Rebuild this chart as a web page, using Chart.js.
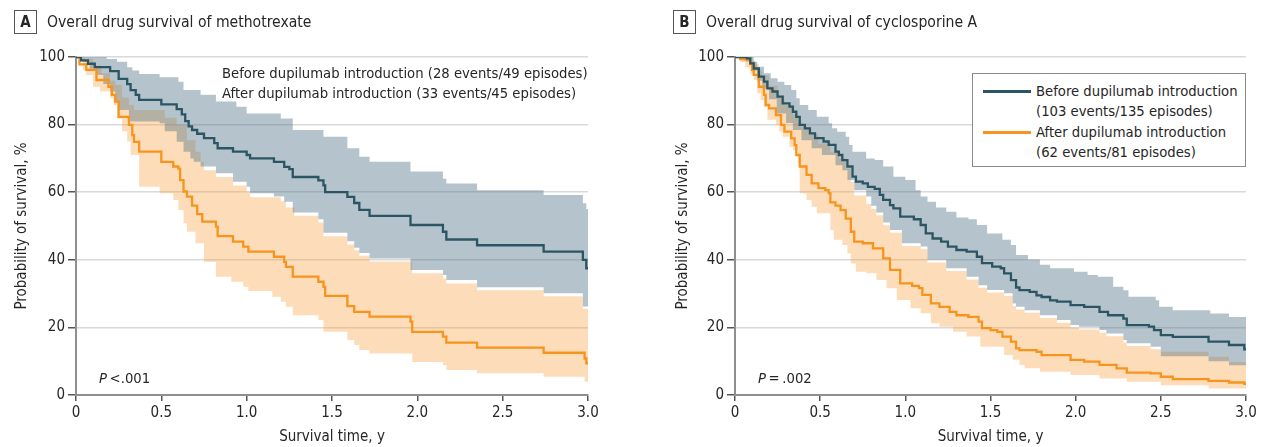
<!DOCTYPE html>
<html>
<head>
<meta charset="utf-8">
<script src="https://cdn.jsdelivr.net/npm/chart.js@4.4.1/dist/chart.umd.min.js"></script>
<style>
  body { margin: 0; background: #fff; }
  #page { position: relative; width: 1267px; height: 447px; overflow: hidden;
          font-family: "Liberation Sans Narrow", "DejaVu Sans Condensed", Roboto, sans-serif; color: #262626; }
  canvas { position: absolute; top: 0; }
  #chartA { left: 0; }
  #chartB { left: 640px; }
  .title { position: absolute; top: 10px; font-size: 15.6px; line-height: 24px; white-space: nowrap; }
  .title b { display: inline-block; box-sizing: border-box; width: 23px; height: 24px; border: 1px solid #555;
             text-align: center; line-height: 22px; font-size: 15px; margin-right: 10px; vertical-align: top; }
  .note { position: absolute; font-size: 14.7px; line-height: 20px; white-space: nowrap; }
  #legendB { position: absolute; left: 972px; top: 73px; width: 274px; height: 94px;
             box-sizing: border-box; border: 1px solid #8a8a8a; background: #fff; }
  .swatch { position: absolute; left: 10px; width: 48px; height: 3px; }
</style>
</head>
<body>
<div id="page">
  <canvas id="chartA" width="630" height="447"></canvas>
  <canvas id="chartB" width="627" height="447"></canvas>

  <div class="title" style="left:14px"><b>A</b>Overall drug survival of methotrexate</div>
  <div class="title" style="left:673px"><b>B</b>Overall drug survival of cyclosporine A</div>

  <div class="note" style="left:222px; top:63px">Before dupilumab introduction (28 events/49 episodes)</div>
  <div class="note" style="left:222px; top:83px">After dupilumab introduction (33 events/45 episodes)</div>

  <div id="legendB">
    <div class="swatch" style="top:16px; background:#2b5563"></div>
    <div class="swatch" style="top:57px; background:#f7941e"></div>
    <div class="note" style="left:63px; top:7px">Before dupilumab introduction</div>
    <div class="note" style="left:63px; top:27px">(103 events/135 episodes)</div>
    <div class="note" style="left:63px; top:48px">After dupilumab introduction</div>
    <div class="note" style="left:63px; top:68px">(62 events/81 episodes)</div>
  </div>

  <div class="note" style="left:99px; top:368px"><i>P</i>&thinsp;&lt;.001</div>
  <div class="note" style="left:758px; top:368px"><i>P</i>&thinsp;=&thinsp;.002</div>
</div>

<script>
/* ------------------------------------------------------------------ */
/*  Data: [time (y), survival (%)]                  */
/* ------------------------------------------------------------------ */

var xTicks = [0, 0.5, 1.0, 1.5, 2.0, 2.5, 3.0];
var xTickLabels = ["0", "0.5", "1.0", "1.5", "2.0", "2.5", "3.0"];
var yTicks = [0, 20, 40, 60, 80, 100];

// A: methotrexate
var mtxBefore = [[0,100],[0.03,99],[0.07,98],[0.11,97],[0.2,95.8],[0.25,93.5],[0.3,92],[0.32,90.2],[0.35,88.8],[0.37,87.3],[0.5,86],[0.59,84.6],[0.62,83],[0.64,81],[0.66,79.5],[0.68,78.4],[0.71,77.3],[0.75,76],[0.81,74.5],[0.83,73],[0.92,72],[1.0,71],[1.02,70],[1.16,69],[1.22,67.5],[1.25,66.8],[1.27,64.5],[1.42,63.5],[1.45,62],[1.46,60],[1.59,58.6],[1.63,56.8],[1.66,54.8],[1.72,53],[1.96,50.3],[2.15,48.3],[2.17,46],[2.35,44.3],[2.74,42.4],[2.97,40],[2.99,37.5],[3.0,37.5]];
var mtxBeforeHi = [[0,100],[0.18,99.4],[0.24,98.6],[0.3,97],[0.33,96],[0.37,95],[0.49,94],[0.6,92.7],[0.63,90.2],[0.73,88.8],[0.82,86.8],[0.94,85.3],[1.0,83.3],[1.2,81.8],[1.27,78.4],[1.45,76.4],[1.59,73],[1.66,70.5],[1.72,69],[1.96,66.1],[2.15,64],[2.17,62.6],[2.35,60.6],[2.74,59.2],[2.97,56.7],[2.99,55],[3.0,55]];
var mtxBeforeLo = [[0,100],[0.04,98.5],[0.08,96.5],[0.12,94.7],[0.16,92],[0.2,89.8],[0.23,87],[0.25,84.3],[0.31,80.9],[0.49,80.4],[0.52,78],[0.59,74.9],[0.63,72],[0.67,70],[0.69,69],[0.73,67.6],[0.82,65.6],[0.92,63.1],[1.0,61.6],[1.02,59.7],[1.16,58.7],[1.22,57.2],[1.27,54],[1.42,52],[1.45,48],[1.59,45.5],[1.63,43.6],[1.66,42],[1.72,40.4],[1.96,37],[2.15,35.5],[2.17,34],[2.35,31.9],[2.74,30.1],[2.97,26.2],[3.0,26.2]];
var mtxAfter = [[0,100],[0.02,97.8],[0.06,96.2],[0.12,93.2],[0.19,91.2],[0.21,88.8],[0.23,86.8],[0.25,82.3],[0.31,79.9],[0.33,76.9],[0.34,74.9],[0.37,72],[0.5,69],[0.57,67.6],[0.6,67],[0.61,63.6],[0.63,60.2],[0.65,58.7],[0.68,56],[0.71,53.5],[0.74,51.3],[0.82,49.8],[0.83,47],[0.92,45.4],[0.98,43.9],[1.01,42.4],[1.16,40.9],[1.22,39.4],[1.23,37.9],[1.27,35],[1.42,33.5],[1.45,32],[1.46,29.3],[1.59,26.3],[1.63,24.6],[1.72,23.2],[1.96,21.7],[1.97,18.7],[2.15,17.3],[2.17,15.5],[2.35,14],[2.74,12.5],[2.98,10.8],[2.99,9.4],[3.0,9.4]];
var mtxAfterHi = [[0,100],[0.05,99.5],[0.1,97.5],[0.15,95.2],[0.2,93],[0.23,91.7],[0.27,88],[0.31,85.8],[0.34,84.3],[0.49,84.3],[0.52,82],[0.59,79.9],[0.65,75.4],[0.7,72],[0.73,69],[0.75,66.5],[0.82,64.5],[0.92,62],[1.0,60],[1.02,58.5],[1.2,57.3],[1.23,55.5],[1.28,53],[1.42,51],[1.45,47],[1.59,44.5],[1.63,42.8],[1.66,41.2],[1.72,39.5],[1.97,36],[2.15,34.5],[2.17,33],[2.35,31],[2.74,29.2],[2.97,25.5],[3.0,25.5]];
var mtxAfterLo = [[0,100],[0.02,98.6],[0.04,96.2],[0.06,94.7],[0.1,91.2],[0.14,89.8],[0.2,87.8],[0.22,85.8],[0.24,81.8],[0.27,78],[0.3,75],[0.32,71],[0.37,61.6],[0.49,59.7],[0.57,57.7],[0.6,54.7],[0.63,50.8],[0.65,48.3],[0.7,44.9],[0.75,39.4],[0.82,35],[0.91,33.5],[0.98,32],[1.01,30.8],[1.15,29.1],[1.2,27.6],[1.23,26.1],[1.27,23.6],[1.42,22.2],[1.45,18.7],[1.59,16.3],[1.63,14.8],[1.66,13.3],[1.72,12.3],[1.97,9.8],[2.15,8.9],[2.17,7.4],[2.35,6.4],[2.74,5.4],[2.98,3.9],[3.0,3.9]];

// B: cyclosporine A
var csaBefore = [[0,100],[0.07,99.6],[0.09,98.1],[0.11,96.6],[0.14,94.2],[0.17,92.7],[0.19,90.7],[0.22,89.8],[0.25,88.3],[0.28,86.3],[0.32,85.3],[0.34,83.8],[0.36,82.3],[0.38,79.9],[0.41,78.9],[0.44,77.4],[0.47,76],[0.52,75],[0.55,74],[0.59,72],[0.61,71],[0.63,69.5],[0.66,67.6],[0.69,64.6],[0.71,63.1],[0.75,62.6],[0.78,61.6],[0.82,61],[0.85,59.2],[0.87,57.7],[0.91,56.2],[0.93,55.2],[0.97,52.8],[1.05,52],[1.09,50.3],[1.12,47.8],[1.16,46.3],[1.21,45.4],[1.25,43.9],[1.3,42.9],[1.36,42.4],[1.42,40.9],[1.45,39],[1.51,38],[1.56,37.5],[1.58,36],[1.62,34],[1.65,31.8],[1.67,31],[1.73,30.5],[1.77,29.5],[1.8,29],[1.85,28],[1.89,27.6],[1.97,26.6],[2.05,26.1],[2.14,24.6],[2.19,23.6],[2.28,22.6],[2.3,20.7],[2.43,20.2],[2.46,19.2],[2.5,17.7],[2.57,17.2],[2.78,15.8],[2.9,14.8],[2.99,13.5],[3.0,13.5]];
var csaBeforeHi = [[0,100],[0.08,100],[0.11,98.6],[0.13,97.1],[0.17,95.2],[0.21,93.7],[0.25,92.7],[0.29,91.7],[0.33,90.2],[0.36,87.8],[0.38,85.8],[0.43,84.3],[0.48,82.3],[0.55,80.4],[0.57,78.9],[0.6,77.9],[0.65,76.4],[0.67,74],[0.69,72],[0.77,70],[0.82,69.5],[0.87,67.6],[0.93,64.6],[1.0,63.6],[1.06,60.6],[1.09,58.7],[1.13,57.2],[1.18,55.5],[1.24,54.2],[1.3,52.5],[1.37,52],[1.42,50.3],[1.48,47.8],[1.57,45.9],[1.62,44.4],[1.65,41.4],[1.72,40.1],[1.79,38.5],[1.85,37.5],[1.99,36.5],[2.07,35.5],[2.13,35],[2.22,32],[2.28,31],[2.31,29.1],[2.47,28],[2.49,26.1],[2.57,25.1],[2.79,24.1],[2.9,23.1],[3.0,23.1]];
var csaBeforeLo = [[0,100],[0.05,99],[0.1,96],[0.13,93],[0.16,90.7],[0.2,87.5],[0.245,83.3],[0.3,80.5],[0.34,78.4],[0.39,75.4],[0.45,73],[0.51,71],[0.59,68],[0.63,66.5],[0.66,63.6],[0.7,60.6],[0.77,58.7],[0.8,56],[0.83,54],[0.87,51],[0.91,48.8],[0.98,44.9],[1.09,43.9],[1.13,40],[1.24,37.5],[1.36,35],[1.43,32.5],[1.48,31.1],[1.58,30.1],[1.63,27.1],[1.65,26.1],[1.7,25.1],[1.79,23.6],[1.89,22.2],[1.97,20.7],[2.02,20.2],[2.14,19.2],[2.18,18.2],[2.28,16.3],[2.3,15.3],[2.44,14.3],[2.5,11.5],[2.78,10],[2.9,8.8],[3.0,8.8]];
var csaAfter = [[0,100],[0.03,99.4],[0.07,99],[0.09,98],[0.1,96.2],[0.11,94.7],[0.14,91.2],[0.17,88.8],[0.18,85.8],[0.2,84.8],[0.24,82.8],[0.27,79.9],[0.29,77.9],[0.33,75.9],[0.35,73.9],[0.36,71],[0.38,67.6],[0.42,65.1],[0.45,62.6],[0.49,61.2],[0.53,60.6],[0.55,59.7],[0.56,57],[0.59,56],[0.62,54.7],[0.65,52.2],[0.68,48.3],[0.7,45.4],[0.75,44.9],[0.81,43.4],[0.87,40.4],[0.91,37],[0.97,33],[1.04,32.3],[1.08,31.6],[1.1,29.6],[1.15,27.1],[1.2,26.1],[1.26,24.6],[1.3,23.6],[1.37,23.1],[1.43,21.7],[1.45,19.8],[1.5,19.2],[1.54,18.7],[1.57,17.3],[1.62,15.8],[1.65,13.8],[1.67,13.3],[1.77,12.8],[1.8,11.8],[1.97,10.4],[2.05,9.9],[2.14,8.9],[2.24,7.9],[2.3,6.6],[2.44,6.4],[2.5,5.4],[2.57,4.7],[2.78,4.2],[2.9,3.7],[2.99,3.3],[3.0,3.3]];
var csaAfterHi = [[0,100],[0.08,100],[0.1,99],[0.12,98],[0.14,96],[0.16,94.5],[0.2,91.5],[0.25,88.5],[0.29,85.8],[0.34,83],[0.37,81],[0.39,79.4],[0.44,77],[0.49,74.4],[0.56,72],[0.61,70],[0.65,67],[0.68,63],[0.7,59],[0.77,56.5],[0.8,55],[0.83,53.2],[0.87,50.2],[0.91,48],[0.98,44.1],[1.09,43.1],[1.13,39.2],[1.24,36.7],[1.36,34.2],[1.43,31.7],[1.48,30.3],[1.58,29.3],[1.63,26.3],[1.65,25.3],[1.7,24.3],[1.79,22.8],[1.89,21.4],[1.97,19.9],[2.02,19.4],[2.14,18.4],[2.18,17.4],[2.28,15.5],[2.3,14.5],[2.44,13.5],[2.5,12.8],[2.78,11.3],[2.9,9.8],[3.0,9.8]];
var csaAfterLo = [[0,100],[0.03,98.5],[0.06,97],[0.09,95],[0.11,93.2],[0.13,89.2],[0.15,87.3],[0.17,85.3],[0.19,81.4],[0.24,79.9],[0.26,77.9],[0.28,76.4],[0.32,73.4],[0.34,72.5],[0.37,68.5],[0.38,59.7],[0.42,57.7],[0.45,55.7],[0.48,53.8],[0.56,48.8],[0.58,45.9],[0.63,44.4],[0.66,41.9],[0.68,38.9],[0.71,36.5],[0.77,36],[0.83,34],[0.89,31.6],[0.95,28.1],[1.03,25.7],[1.09,24.2],[1.15,21.2],[1.2,20.2],[1.28,18.7],[1.36,17.3],[1.44,14.3],[1.58,11.8],[1.63,10.4],[1.67,8.9],[1.7,7.9],[1.79,6.9],[1.97,5.9],[2.14,4.9],[2.3,3.9],[2.5,2.9],[2.78,1.9],[3.0,1.3]];

/* ------------------------------------------------------------------ */
/*  Palette                                                            */
/* ------------------------------------------------------------------ */

var c = {
  before:     "#2b5563",
  after:      "#f7941e",
  beforeBand: "rgba(78,115,133,0.42)",
  afterBand:  "rgba(250,160,60,0.36)",
  grid:       "#d9d9d9",
  axis:       "#8f8f8f",
  tick:       "#555",
  text:       "#262626",
};
var FONT = '"Liberation Sans Narrow", "DejaVu Sans Condensed", Roboto, sans-serif';

/* ------------------------------------------------------------------ */
/*  Helpers                                                            */
/* ------------------------------------------------------------------ */

function pts(arr) {
  return arr.map(function (p) { return { x: p[0], y: p[1] }; });
}

function curve(arr, color) {
  return { data: pts(arr), borderColor: color, borderWidth: 2.3, stepped: true,
           pointRadius: 0, fill: false, order: 0 };
}

// upper bound fills down to the lower bound that follows it
function band(hi, lo, color, order) {
  var none = "rgba(0,0,0,0)";
  return [
    { data: pts(hi), borderColor: none, borderWidth: 1, backgroundColor: color, stepped: true,
      pointRadius: 0, fill: "+1", order: order },
    { data: pts(lo), borderColor: none, borderWidth: 1, stepped: true,
      pointRadius: 0, fill: false, order: order },
  ];
}

function renderPanel(id, axisWidth, yTitlePad, rightPad, s) {
  var datasets = [curve(s.before, c.before), curve(s.after, c.after)]
    .concat(band(s.beforeHi, s.beforeLo, c.beforeBand, 1))
    .concat(band(s.afterHi, s.afterLo, c.afterBand, 2));

  new Chart(document.getElementById(id), {
    type: "line",
    data: { datasets: datasets },
    options: {
      responsive: false,
      animation: false,
      devicePixelRatio: 1,
      events: [],
      layout: { padding: { top: 57, right: rightPad, bottom: 0, left: 0 } },
      plugins: { legend: { display: false }, tooltip: { enabled: false } },
      scales: {
        x: {
          type: "linear", min: 0, max: 3,
          afterBuildTicks: function (sc) { sc.ticks = xTicks.map(function (v) { return { value: v }; }); },
          afterFit: function (sc) { sc.height = 52; },
          ticks: { color: c.text, font: { size: 15, family: FONT }, padding: 3, maxRotation: 0,
                   callback: function (v) { return xTickLabels[xTicks.indexOf(v)]; } },
          grid: { drawOnChartArea: false, tickLength: 6, tickColor: c.tick, lineWidth: 1.5 },
          border: { color: c.axis, width: 2 },
          title: { display: true, text: "Survival time, y", color: c.text,
                   font: { size: 15, family: FONT }, padding: { top: 0, bottom: 1 } },
        },
        y: {
          min: 0, max: 100,
          afterBuildTicks: function (sc) { sc.ticks = yTicks.map(function (v) { return { value: v }; }); },
          afterFit: function (sc) { sc.width = axisWidth; },
          ticks: { color: c.text, font: { size: 15, family: FONT }, padding: 3 },
          grid: { color: c.grid, lineWidth: 1.5, tickLength: 8, tickColor: c.tick },
          border: { color: c.axis, width: 2 },
          title: { display: true, text: "Probability of survival, %", color: c.text,
                   font: { size: 15, family: FONT }, padding: { top: yTitlePad, bottom: 0 } },
        },
      },
    },
  });
}

/* ------------------------------------------------------------------ */
/*  Bootstrap                                                          */
/* ------------------------------------------------------------------ */

renderPanel("chartA", 76, 13, 42, {
  before: mtxBefore, beforeHi: mtxBeforeHi, beforeLo: mtxBeforeLo,
  after: mtxAfter, afterHi: mtxAfterHi, afterLo: mtxAfterLo,
});
renderPanel("chartB", 95, 34, 21, {
  before: csaBefore, beforeHi: csaBeforeHi, beforeLo: csaBeforeLo,
  after: csaAfter, afterHi: csaAfterHi, afterLo: csaAfterLo,
});
</script>
</body>
</html>
